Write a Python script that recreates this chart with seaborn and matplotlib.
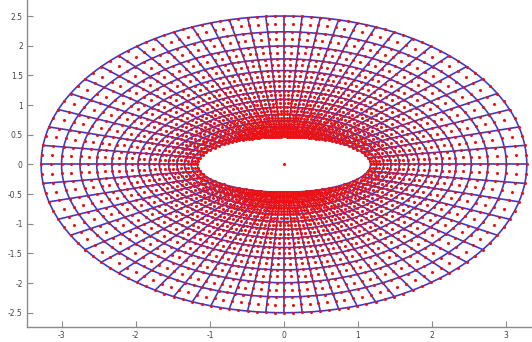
import numpy as np
import pandas as pd
import matplotlib
matplotlib.use("Agg")
import matplotlib.pyplot as plt
import seaborn as sns

# ellipse semi-axes
outer_axes = [3.28, 2.5]
inner_axes = [1.17, 0.47]
# ring positions between inner (0) and outer (1) ellipse along each ray
ring_frac = [0.0, 0.039, 0.083, 0.131, 0.184, 0.243, 0.308, 0.380,
             0.459, 0.547, 0.644, 0.751, 0.869, 1.0]
# spokes are rays from the centre, evenly spaced in angle
n_spokes = 64
x_ticks = [-3, -2, -1, 0, 1, 2, 3]
y_ticks = [-2.5, -2, -1.5, -1, -0.5, 0, 0.5, 1, 1.5, 2, 2.5]
y_tick_labels = ["-2.5", "-2", "-1.5", "-1", "-0.5", "0", "0.5", "1", "1.5", "2", "2.5"]

sns.set_style("white")

fig = plt.figure(figsize=(5.32, 3.42), dpi=100)
ax = fig.add_axes([0.0508, 0.0439, 0.9492, 0.9561])

xlim = (-3.47, 3.35)
ylim = (-2.74, 2.77)


def radius(axes, phi):
    a, b = axes
    return 1.0 / np.sqrt((np.cos(phi) / a) ** 2 + (np.sin(phi) / b) ** 2)


def point(s, phi):
    r0 = radius(inner_axes, phi)
    r1 = radius(outer_axes, phi)
    r = r0 + s * (r1 - r0)
    return r * np.cos(phi), r * np.sin(phi)


phi_nodes = np.linspace(0, 2 * np.pi, n_spokes + 1)[:-1]
phi_half = np.linspace(0, 2 * np.pi, 2 * n_spokes + 1)[:-1]
phi_fine = np.linspace(0, 2 * np.pi, 16 * n_spokes + 1)

# rings
rows = []
for i, s in enumerate(ring_frac):
    x, y = point(s, phi_fine)
    for xx, yy in zip(x, y):
        rows.append(("r%d" % i, xx, yy))
rings = pd.DataFrame(rows, columns=["line", "x", "y"])

# spokes
rows = []
for k, p in enumerate(phi_nodes):
    for s in (0.0, 1.0):
        x, y = point(s, p)
        rows.append(("s%d" % k, x, y))
spokes = pd.DataFrame(rows, columns=["line", "x", "y"])

line_col = "#3a3ad0"
sns.lineplot(data=rings, x="x", y="y", units="line", estimator=None, sort=False,
             color=line_col, linewidth=1.2, ax=ax, legend=False)
sns.lineplot(data=spokes, x="x", y="y", units="line", estimator=None, sort=False,
             color=line_col, linewidth=1.2, ax=ax, legend=False)

# red points: nodes, edge midpoints and cell centres (9 per cell)
pts = []
for i, s in enumerate(ring_frac):
    x, y = point(s, phi_half)
    pts.append(pd.DataFrame({"x": x, "y": y}))
    if i < len(ring_frac) - 1:
        x, y = point(0.5 * (s + ring_frac[i + 1]), phi_half)
        pts.append(pd.DataFrame({"x": x, "y": y}))
pts.append(pd.DataFrame({"x": [0.0], "y": [0.0]}))
pts = pd.concat(pts, ignore_index=True)
sns.scatterplot(data=pts, x="x", y="y", color="#ee1111", s=5, linewidth=0,
                ax=ax, legend=False, zorder=3)

ax.set_xlim(*xlim)
ax.set_ylim(*ylim)
ax.set_xticks(x_ticks)
ax.set_xticklabels([str(v) for v in x_ticks])
ax.set_yticks(y_ticks)
ax.set_yticklabels(y_tick_labels)
ax.set_xlabel("")
ax.set_ylabel("")
for side in ["top", "right"]:
    ax.spines[side].set_visible(False)
for side in ["left", "bottom"]:
    ax.spines[side].set_color("#8a8a8a")
    ax.spines[side].set_linewidth(1.0)
ax.tick_params(direction="in", length=4, width=0.8, color="#8a8a8a",
               labelsize=5.5, labelcolor="#444444", pad=3, left=True, bottom=True)

fig.savefig("out.png", dpi=100)
